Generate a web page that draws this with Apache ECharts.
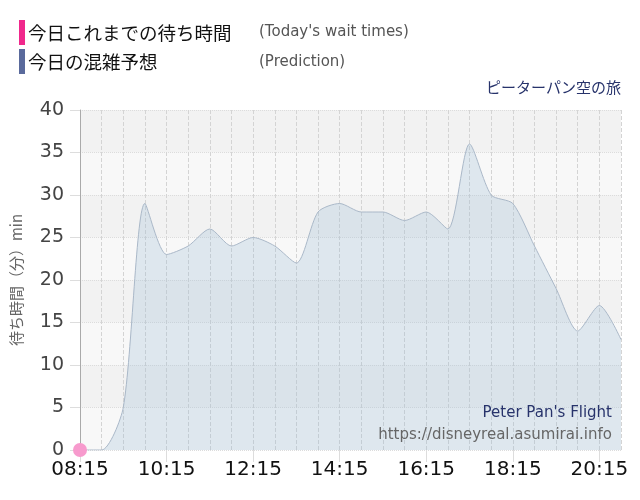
<!DOCTYPE html>
<html><head><meta charset="utf-8">
<script src="https://cdn.jsdelivr.net/npm/echarts@6/dist/echarts.min.js"></script>
<style>html,body{margin:0;padding:0;background:#fff}#c{width:640px;height:500px}</style>
</head><body><div id="c"></div>
<script>
const times = ["08:15","08:45","09:15","09:45","10:15","10:45","11:15","11:45","12:15","12:45","13:15","13:45","14:15","14:45","15:15","15:45","16:15","16:45","17:15","17:45","18:15","18:45","19:15","19:45","20:15","20:45"];
const prediction = [0,0,5,29,23,24,26,24,25,24,22,28,29,28,28,27,28,26,36,30,29,24,19,14,17,13];
const today = [0];
const yTicks = [0,5,10,15,20,25,30,35,40];

const chart = echarts.init(document.getElementById('c'));
chart.setOption({
  animation:false,
  backgroundColor:'#fff',
  grid:{left:80,right:19,top:110,bottom:50},
  xAxis:{
    type:'category', data:times, boundaryGap:false,
    axisLine:{show:false},
    axisTick:{show:true, interval:3, length:12, lineStyle:{color:'#ddd'}},
    axisLabel:{interval:3, color:'#111', fontSize:20, fontFamily:'DejaVu Sans', margin:10},
    splitLine:{show:true, interval:0, lineStyle:{color:'#d4d4d4', type:'dashed', width:1}}
  },
  yAxis:{
    type:'value', min:yTicks[0], max:yTicks[yTicks.length-1], interval:5,
    name:'待ち時間（分）min', nameLocation:'middle', nameGap:56,
    nameTextStyle:{color:'#666', fontSize:15, fontFamily:'Noto Sans CJK JP'},
    axisLine:{show:true, lineStyle:{color:'#aaa'}},
    axisTick:{show:true, length:10, lineStyle:{color:'#ddd'}},
    axisLabel:{color:'#444', fontSize:19, fontFamily:'DejaVu Sans', margin:16},
    splitLine:{show:true, lineStyle:{color:'#dcdcdc', type:'dotted'}},
    splitArea:{show:true, areaStyle:{color:['#f8f8f8','#f2f2f2']}}
  },
  series:[
    {type:'line', name:'今日の混雑予想', data:prediction, smooth:0.25, symbol:'none',
     lineStyle:{color:'#aab8c8', width:1},
     areaStyle:{color:'rgba(160,190,215,0.42)'}, z:2},
    {type:'line', name:'今日これまでの待ち時間', data:today, symbol:'circle', symbolSize:14,
     itemStyle:{color:'#f79acd'}, lineStyle:{color:'#f79acd'}, z:5}
  ],
  graphic:[
    {type:'rect', shape:{x:19,y:20,width:6,height:25}, style:{fill:'#f0288c'}},
    {type:'text', x:28, y:33, style:{text:'今日これまでの待ち時間', fill:'#111', font:'18.5px "Noto Sans CJK JP"', verticalAlign:'middle'}},
    {type:'text', x:259, y:32, style:{text:"(Today's wait times)", fill:'#555', font:'15px "DejaVu Sans"', verticalAlign:'middle'}},
    {type:'rect', shape:{x:19,y:49,width:6,height:25}, style:{fill:'#5a6a9c'}},
    {type:'text', x:28, y:62, style:{text:'今日の混雑予想', fill:'#111', font:'18.5px "Noto Sans CJK JP"', verticalAlign:'middle'}},
    {type:'text', x:259, y:62, style:{text:'(Prediction)', fill:'#555', font:'15px "DejaVu Sans"', verticalAlign:'middle'}},
    {type:'text', right:19, top:80, style:{text:'ピーターパン空の旅', fill:'#27336b', font:'15px "Noto Sans CJK JP"'}},
    {type:'text', right:28, top:406, z:10, style:{text:"Peter Pan's Flight", fill:'#27336b', font:'15px "DejaVu Sans"'}},
    {type:'text', right:28, top:428, z:10, style:{text:'https://disneyreal.asumirai.info', fill:'#666', font:'15px "DejaVu Sans"'}}
  ]
});
</script></body></html>
